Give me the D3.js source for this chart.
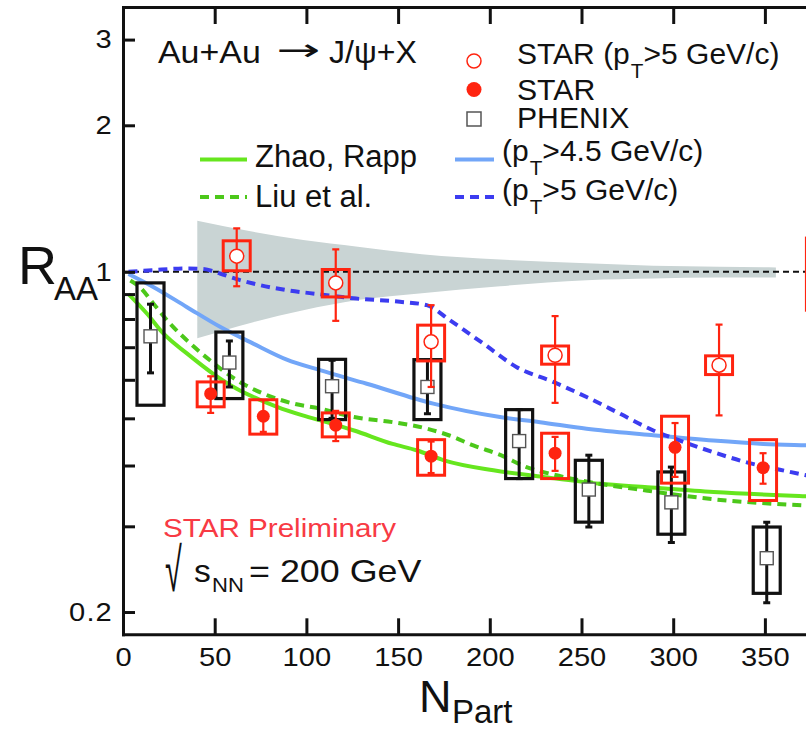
<!DOCTYPE html>
<html>
<head>
<meta charset="utf-8">
<script src="https://cdn.jsdelivr.net/npm/d3@7"></script>
<style>
  body { margin: 0; background: #fff; }
  svg { display: block; font-family: "Liberation Sans", Arial, Helvetica, sans-serif; }
</style>
</head>
<body>
<svg id="chart" width="806" height="730"></svg>
<script>
// ---- values ----
var xTicks = [0, 50, 100, 150, 200, 250, 300, 350];
var yTicks = [0.2, 0.3, 0.4, 0.5, 0.6, 0.7, 0.8, 0.9, 1, 2, 3];
var yLabelled = [0.2, 1, 2, 3];

// PHENIX (open squares, black boxes)
var phenixN = [15, 58, 114, 166, 216, 254, 299, 351];
var phenixR = [0.737, 0.651, 0.582, 0.580, 0.449, 0.357, 0.336, 0.258];
var phenixErrHi = [0.858, 0.721, 0.658, 0.658, 0.521, 0.420, 0.397, 0.306];
var phenixErrLo = [0.620, 0.580, 0.500, 0.511, 0.376, 0.299, 0.278, 0.209];
var phenixSysHi = [0.949, 0.752, 0.661, 0.660, 0.521, 0.410, 0.388, 0.299];
var phenixSysLo = [0.532, 0.549, 0.497, 0.497, 0.376, 0.306, 0.289, 0.2185];

// STAR (filled circles)
var starN = [47.8, 76.5, 116, 168, 235.6, 301, 349];
var starR = [0.562, 0.505, 0.484, 0.418, 0.424, 0.436, 0.396];
var starErrHi = [0.610, 0.545, 0.518, 0.448, 0.458, 0.489, 0.424];
var starErrLo = [0.513, 0.469, 0.449, 0.386, 0.390, 0.379, 0.367];
var starSysHi = [0.594, 0.546, 0.513, 0.452, 0.466, 0.505, 0.452];
var starSysLo = [0.528, 0.464, 0.458, 0.382, 0.376, 0.368, 0.339];

// STAR pT>5 GeV/c (open circles)
var starHiN = [62, 116, 168, 235.6, 325, 380];
var starHiR = [1.077, 0.949, 0.718, 0.674, 0.643, 1.0];
var starHiErrHi = [1.228, 1.112, 0.854, 0.811, 0.779, 1.25];
var starHiErrLo = [0.934, 0.793, 0.580, 0.538, 0.507, 0.80];
var starHiSysHi = [1.158, 1.011, 0.777, 0.704, 0.672, 1.173];
var starHiSysLo = [1.005, 0.888, 0.656, 0.646, 0.615, 0.834];

// normalisation band
var bandN = [40.5, 71, 98.3, 128, 163, 205.6, 252.8, 289, 325, 356];
var bandLo = [0.730, 0.788, 0.834, 0.875, 0.904, 0.934, 0.961, 0.969, 0.973, 0.974];
var bandHi = [1.273, 1.208, 1.162, 1.126, 1.087, 1.060, 1.041, 1.029, 1.024, 1.021];

// model curves
var zhaoN = [3, 13, 22, 35, 49, 62, 75, 84, 98, 111, 126, 147, 160, 175, 202, 229, 260, 286, 322, 372, 400];
var zhaoR = [0.90, 0.821, 0.747, 0.679, 0.618, 0.575, 0.545, 0.528, 0.507, 0.491, 0.472, 0.443, 0.430, 0.410, 0.391, 0.379, 0.367, 0.361, 0.353, 0.346, 0.343];
var liuN = [4, 9.3, 16.5, 25.6, 34.7, 47.4, 62, 76.5, 93, 107, 126, 147, 166, 178, 191, 206, 220, 235, 249, 286, 322, 372, 400];
var liuR = [0.96, 0.929, 0.861, 0.783, 0.724, 0.658, 0.599, 0.562, 0.536, 0.524, 0.503, 0.491, 0.476, 0.461, 0.440, 0.420, 0.397, 0.383, 0.373, 0.355, 0.341, 0.331, 0.327];
var pt45N = [3, 16.5, 34.7, 52.9, 71, 89.3, 107.4, 132.9, 169.2, 205.6, 227.4, 252.8, 288, 321.9, 349.1, 372.4, 400];
var pt45R = [0.99, 0.931, 0.847, 0.771, 0.712, 0.66, 0.628, 0.589, 0.536, 0.503, 0.491, 0.476, 0.462, 0.45, 0.443, 0.44, 0.437];
var pt5N = [3, 16.5, 34.7, 43.8, 52.9, 62, 71, 89.3, 107.4, 125.6, 151, 165.6, 178.3, 196.5, 214.7, 234.6, 252.8, 271, 289.2, 303.7, 321.9, 340.1, 358.2, 372.4, 400];
var pt5R = [1.0, 1.008, 1.016, 1.013, 0.992, 0.966, 0.946, 0.917, 0.899, 0.882, 0.868, 0.854, 0.795, 0.712, 0.637, 0.594, 0.553, 0.511, 0.472, 0.45, 0.426, 0.406, 0.392, 0.382, 0.365];

// ---- drawing ----
var svg = d3.select("#chart");
var red = "#ff2410", ink = "#111";

var x = d3.scaleLinear().domain([0, 400]).range([123, 856.6]);
var y = d3.scaleLog().domain([0.18, 3.5]).range([634.3, 7]);

svg.append("defs").append("clipPath").attr("id", "plotclip")
  .append("rect").attr("x", 123).attr("y", 7).attr("width", 734).attr("height", 627.3);
var plot = svg.append("g").attr("clip-path", "url(#plotclip)");

// band
plot.append("path")
  .datum(d3.range(bandN.length))
  .attr("fill", "#c9d4d4")
  .attr("d", d3.area()
    .x(function(i){ return x(bandN[i]); })
    .y0(function(i){ return y(bandLo[i]); })
    .y1(function(i){ return y(bandHi[i]); })
    .curve(d3.curveMonotoneX));

// R=1 line
plot.append("line")
  .attr("x1", x(0)).attr("x2", x(400))
  .attr("y1", y(1)).attr("y2", y(1))
  .attr("stroke", ink).attr("stroke-width", 2)
  .attr("stroke-dasharray", "6,4");

function curve(ns, rs, color, dash) {
  plot.append("path")
    .datum(d3.range(ns.length))
    .attr("fill", "none")
    .attr("stroke", color)
    .attr("stroke-width", 4)
    .attr("stroke-dasharray", dash)
    .attr("d", d3.line()
      .x(function(i){ return x(ns[i]); })
      .y(function(i){ return y(rs[i]); })
      .curve(d3.curveMonotoneX));
}
curve(pt45N, pt45R, "#72a6f8", null);
curve(zhaoN, zhaoR, "#66e61e", null);
curve(liuN, liuR, "#4cc81a", "9,6");
curve(pt5N, pt5R, "#3c3cf0", "9,6");

function points(ns, rs, eHi, eLo, sHi, sLo, color, boxW, kind) {
  ns.forEach(function(n, i) {
    var cx = x(n);
    plot.append("rect")
      .attr("x", cx - 13.5).attr("width", 27)
      .attr("y", y(sHi[i])).attr("height", y(sLo[i]) - y(sHi[i]))
      .attr("fill", "none").attr("stroke", color).attr("stroke-width", boxW);
    var eb = plot.append("g").attr("stroke", color).attr("stroke-width", kind == "sq" ? 3 : 2.2);
    eb.append("line").attr("x1", cx).attr("x2", cx).attr("y1", y(eHi[i])).attr("y2", y(eLo[i]));
    [eHi[i], eLo[i]].forEach(function(v) {
      eb.append("line").attr("x1", cx - 3.5).attr("x2", cx + 3.5).attr("y1", y(v)).attr("y2", y(v));
    });
    if (kind == "sq") {
      plot.append("rect").attr("x", cx - 6.5).attr("y", y(rs[i]) - 6.5)
        .attr("width", 13).attr("height", 13)
        .attr("fill", "#fff").attr("stroke", "#555").attr("stroke-width", 1.4);
    } else if (kind == "open") {
      plot.append("circle").attr("cx", cx).attr("cy", y(rs[i])).attr("r", 7)
        .attr("fill", "#fff").attr("stroke", color).attr("stroke-width", 1.5);
    } else {
      plot.append("circle").attr("cx", cx).attr("cy", y(rs[i])).attr("r", 6.5)
        .attr("fill", color);
    }
  });
}
points(phenixN, phenixR, phenixErrHi, phenixErrLo, phenixSysHi, phenixSysLo, ink, 3.2, "sq");
points(starN, starR, starErrHi, starErrLo, starSysHi, starSysLo, red, 3, "fill");
points(starHiN, starHiR, starHiErrHi, starHiErrLo, starHiSysHi, starHiSysLo, red, 3, "open");

// axes
function styleAxis(g) {
  g.attr("font-family", null).attr("font-size", null);
  g.select(".domain").attr("stroke", ink).attr("stroke-width", 3).attr("stroke-linecap", "square");
  g.selectAll(".tick line").attr("stroke", ink).attr("stroke-width", 3);
}
var gx = svg.append("g").attr("transform", "translate(0,634.3)")
  .call(d3.axisBottom(x).tickValues(xTicks).tickSizeInner(-16).tickSizeOuter(0));
styleAxis(gx);
gx.selectAll(".tick text").attr("y", 32).attr("dy", null)
  .attr("font-size", 26).attr("fill", ink).attr("transform", "scale(1.12,1)");

var gt = svg.append("g").attr("transform", "translate(0,7)")
  .call(d3.axisTop(x).tickValues(xTicks.slice(1)).tickSizeInner(-17).tickSizeOuter(0).tickFormat(""));
styleAxis(gt);

var gy = svg.append("g").attr("transform", "translate(123,0)")
  .call(d3.axisLeft(y).tickValues(yTicks).tickSizeInner(-12).tickSizeOuter(0)
    .tickFormat(function(d){ return yLabelled.indexOf(d) >= 0 ? String(d) : ""; }));
styleAxis(gy);
gy.selectAll(".tick text").attr("x", -9).attr("font-size", 26).attr("fill", ink)
  .attr("letter-spacing", 1).attr("transform", "scale(1.12,1)");

// text helpers
function label(str, px, py, size, sx, color, sy) {
  return svg.append("text")
    .attr("transform", "translate(" + px + "," + py + ") scale(" + sx + "," + (sy || 1) + ")")
    .attr("font-size", size).attr("fill", color || ink).text(str);
}
function ptLabel(pre, post, px, py) {
  var t = svg.append("text")
    .attr("transform", "translate(" + px + "," + py + ") scale(1.035,1)")
    .attr("font-size", 29).attr("fill", ink);
  t.append("tspan").text(pre);
  t.append("tspan").attr("font-size", 20).attr("dy", 14).attr("dx", 1).text("T");
  t.append("tspan").attr("dy", -14).attr("dx", 0).text(post);
}

// axis titles
label("N", 419, 712, 45, 1);
label("Part", 452, 723, 33, 1);
label("R", 18, 284, 54, 1);
label("AA", 54, 300, 33, 1);

// annotations
label("Au+Au", 158, 63, 32, 1.06);
label("\u2192", 276, 60, 30, 1.75).attr("font-family", "DejaVu Sans");
label("J/\u03c8+X", 329, 63, 32, 1.0);
label("STAR Preliminary", 163, 537, 26, 1.14, "#f83a44");
label("\u221a", 165, 591, 36, 0.85, ink, 1.7);
label("s", 194, 582, 32, 1.05);
label("NN", 212, 592, 21, 1.05);
label("= 200 GeV", 249, 582, 32, 1.12);

// legend: data
svg.append("circle").attr("cx", 474).attr("cy", 61).attr("r", 7)
  .attr("fill", "#fff").attr("stroke", red).attr("stroke-width", 1.5);
svg.append("circle").attr("cx", 474).attr("cy", 89.5).attr("r", 7.5).attr("fill", red);
svg.append("rect").attr("x", 467).attr("y", 112).attr("width", 14).attr("height", 14)
  .attr("fill", "#fff").attr("stroke", "#555").attr("stroke-width", 1.5);
ptLabel("STAR (p", ">5 GeV/c)", 517, 64);
label("STAR", 517, 100, 29, 1.04);
label("PHENIX", 517, 128, 29, 1.04);

// legend: models
function legLine(x1, x2, ly, color, dash) {
  svg.append("line").attr("x1", x1).attr("x2", x2).attr("y1", ly).attr("y2", ly)
    .attr("stroke", color).attr("stroke-width", 4).attr("stroke-dasharray", dash);
}
legLine(200, 247, 159.5, "#66e61e", null);
legLine(200, 247, 197, "#4cc81a", "9,6");
legLine(455, 494, 159.5, "#72a6f8", null);
legLine(455, 494, 197, "#3c3cf0", "9,6");
label("Zhao, Rapp", 255, 167, 31, 1);
label("Liu et al.", 255, 207, 31, 1);
ptLabel("(p", ">4.5 GeV/c)", 502, 161);
ptLabel("(p", ">5 GeV/c)", 502, 200);
</script>
</body>
</html>
